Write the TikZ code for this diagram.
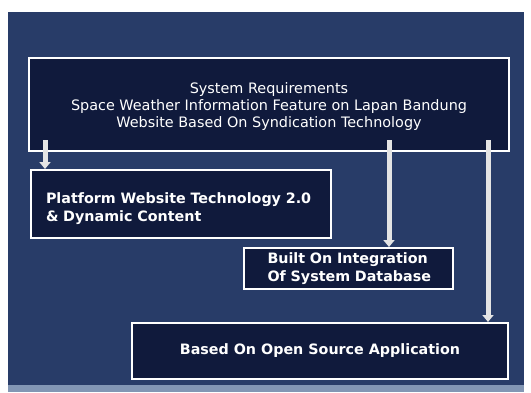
\documentclass[tikz,border=0pt]{standalone}
\usepackage{fontspec}
\setmainfont{DejaVu Sans}
\usetikzlibrary{arrows.meta}
\definecolor{slidebg}{RGB}{40,60,104}
\definecolor{boxbg}{RGB}{16,26,60}
\definecolor{arrowcol}{RGB}{228,228,228}
\definecolor{stripcol}{RGB}{130,150,180}
\tikzset{
  panel/.style={draw=white, line width=2pt, fill=boxbg, text=white, inner sep=0pt},
  flowarrow/.style={draw=arrowcol, line width=5pt, -{Triangle[width=11pt,length=7pt]}},
  boldtext/.style={font=\bfseries\fontsize{14.3}{18}\selectfont},
}
\begin{document}
\begin{tikzpicture}[x=1pt,y=-1pt]
\useasboundingbox (0,0) rectangle (531,392);
\fill[white] (0,0) rectangle (531,392);
\fill[stripcol] (8,384) rectangle (524,392);
\fill[slidebg] (8,12) rectangle (524,385);
% boxes
\node[panel, anchor=north west, minimum width=480pt, minimum height=93pt,
  font=\fontsize{14.4}{17}\selectfont, align=center] (top) at (28,57)
  {\rule{0pt}{14pt}System Requirements\\Space Weather Information Feature on Lapan Bandung\\Website Based On Syndication Technology};
\node[panel, boldtext, anchor=north west, minimum width=300pt, minimum height=68pt,
  align=left, text width=270pt] (plat) at (30,169)
  {\rule{0pt}{21pt}Platform Website Technology 2.0\\\& Dynamic Content};
\node[panel, boldtext, anchor=north west, minimum width=209pt, minimum height=41pt,
  align=left, text width=180pt] (built) at (243,247)
  {\hspace*{9pt}Built On Integration\\\hspace*{9pt}Of System Database};
\node[panel, boldtext, anchor=north west, minimum width=376pt, minimum height=56pt,
  align=center] (open) at (131,322)
  {Based On Open Source Application};
% connector start points inside the top box
\coordinate (s1) at (45,140);
\coordinate (s2) at (389,140);
\coordinate (s3) at (488,140);
\draw[flowarrow] (s1) -- (s1 |- plat.north);
\draw[flowarrow] (s2) -- (s2 |- built.north);
\draw[flowarrow] (s3) -- (s3 |- open.north);
\end{tikzpicture}
\end{document}
